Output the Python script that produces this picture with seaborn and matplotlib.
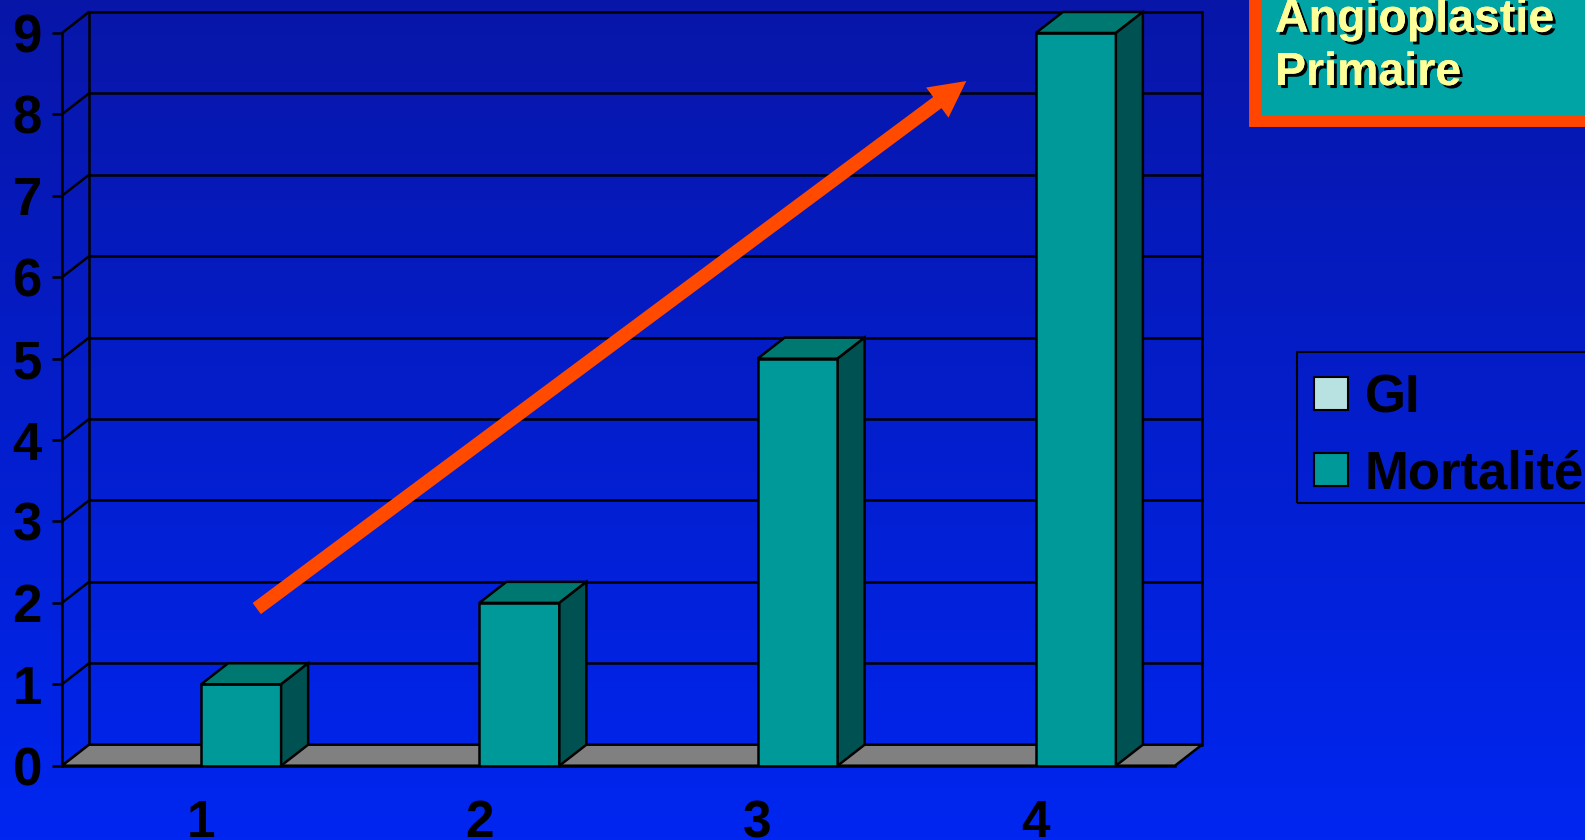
import numpy as np
import pandas as pd
import matplotlib
matplotlib.use("Agg")
import matplotlib.pyplot as plt
import matplotlib.patheffects as pe
from matplotlib.patches import Polygon, Rectangle
import seaborn as sns

# ---- data ----
categories = ["1", "2", "3", "4"]
series_names = ["GI", "Mortalité"]
gi_values = [0, 0, 0, 0]
mortalite_values = [1, 2, 5, 9]
y_ticks = list(range(0, 10))
title_lines = ["Angioplastie", "Primaire"]
trend_start = (0.20, 1.93)   # arrow tail (category position, value)
trend_end = (2.75, 8.41)     # arrow head

# ---- styling ----
front_col = "#009999"
top_col = "#007872"
side_col = "#005252"
gi_col = "#b8e2e2"
floor_col = "#808080"
arrow_col = "#ff4a00"
bg_top = np.array([8, 22, 168]) / 255
bg_bot = np.array([0, 38, 240]) / 255

sns.set_style("white")
plt.rcParams["font.family"] = ["Liberation Sans", "DejaVu Sans"]
plt.rcParams["font.weight"] = "bold"

W, H = 1585, 840
fig = plt.figure(figsize=(W / 100, H / 100), dpi=100)

# gradient background
bg = fig.add_axes([0, 0, 1, 1], zorder=-1)
t = np.linspace(0, 1, 256)[:, None, None]
grad = bg_top * (1 - t) + bg_bot * t
bg.imshow(grad, aspect="auto", extent=[0, 1, 0, 1])
bg.set_axis_off()

# front plane of the 3D chart
x0_px, x1_px = 62, 1175
y0_px, y9_px = 765.7, 33
ax = fig.add_axes([x0_px / W, 1 - y0_px / H, (x1_px - x0_px) / W, (y0_px - y9_px) / H])
ax.set_facecolor("none")

df = pd.DataFrame({
    "cat": categories * 2,
    "serie": [series_names[0]] * 4 + [series_names[1]] * 4,
    "val": gi_values + mortalite_values,
})
sns.barplot(data=df, x="cat", y="val", hue="serie", order=categories,
            hue_order=series_names, palette={series_names[0]: gi_col, series_names[1]: front_col},
            saturation=1, width=0.575, edgecolor="black", linewidth=1.8, errorbar=None,
            legend=False, ax=ax, zorder=4)

ax.set_xlim(-0.5, 3.5)
ax.set_ylim(0, 9)

# depth of the 3D box in data units
dx = 27 / ((x1_px - x0_px) / 4)
dy = 21 / ((y0_px - y9_px) / 9)
lw = 1.8
xl, xr = -0.5, 3.5

# back wall gridlines and left wall diagonals
for v in y_ticks:
    ax.plot([xl + dx, xr + dx], [v + dy, v + dy], color="black", lw=lw, clip_on=False, zorder=1)
    ax.plot([xl, xl + dx], [v, v + dy], color="black", lw=lw, clip_on=False, zorder=1)
for xv in (xl + dx, xr + dx):
    ax.plot([xv, xv], [dy, y_ticks[-1] + dy], color="black", lw=lw, clip_on=False, zorder=1)

# floor
ax.add_patch(Polygon([(xl, 0), (xr, 0), (xr + dx, dy), (xl + dx, dy)], closed=True,
                     facecolor=floor_col, edgecolor="black", lw=lw, clip_on=False, zorder=2))

# top and side faces of the columns
for p in list(ax.patches):
    if not isinstance(p, Rectangle):
        continue
    h = p.get_height()
    if h <= 0:
        p.set_visible(False)
        continue
    bx0 = p.get_x()
    bx1 = bx0 + p.get_width()
    ax.add_patch(Polygon([(bx0, h), (bx1, h), (bx1 + dx, h + dy), (bx0 + dx, h + dy)], closed=True,
                         facecolor=top_col, edgecolor="black", lw=lw, clip_on=False, zorder=4))
    ax.add_patch(Polygon([(bx1, 0), (bx1 + dx, dy), (bx1 + dx, h + dy), (bx1, h)], closed=True,
                         facecolor=side_col, edgecolor="black", lw=lw, clip_on=False, zorder=4))

# axes, ticks
for s in ("top", "right"):
    ax.spines[s].set_visible(False)
for s in ("left", "bottom"):
    ax.spines[s].set_color("black")
    ax.spines[s].set_linewidth(lw)
    ax.spines[s].set_zorder(3)
ax.set_xticks(range(len(categories)))
ax.set_xticklabels(categories)
ax.set_xticks([i - 0.5 for i in range(len(categories) + 1)], minor=True)
ax.set_yticks(y_ticks)
ax.set_yticklabels([str(v) for v in y_ticks])
ax.tick_params(axis="x", which="major", length=0, pad=24, labelsize=37, labelcolor="black")
ax.tick_params(axis="x", which="minor", length=7.5, width=lw, color="black", direction="out")
ax.tick_params(axis="y", which="major", length=7.5, width=lw, color="black", direction="out",
               pad=7, labelsize=38, labelcolor="black", left=True)
ax.set_xlabel("")
ax.set_ylabel("")
ax.grid(False)

# trend arrow
ax.annotate("", xy=trend_end, xytext=trend_start, annotation_clip=False,
            arrowprops=dict(width=10, headwidth=27, headlength=26, shrink=0,
                            facecolor=arrow_col, edgecolor="none"), zorder=6)

# title box
fig.patches.append(Rectangle((1255 / W, 1 - 121 / H), 0.3, 0.3, transform=fig.transFigure,
                             facecolor="#00a4a4", edgecolor="#ff4500", lw=8.6, zorder=2))
shadow = [pe.withSimplePatchShadow(offset=(2.2, -2.2), shadow_rgbFace="black", alpha=1.0), pe.Normal()]
fig.text(1275 / W, 1 - 31.7 / H, title_lines[0], fontsize=33.5, color="#ffff99",
         va="baseline", ha="left", path_effects=shadow, zorder=3)
fig.text(1275 / W, 1 - 85 / H, title_lines[1], fontsize=33.5, color="#ffff99",
         va="baseline", ha="left", path_effects=shadow, zorder=3)

# legend
fig.patches.append(Rectangle((1297 / W, 1 - 503 / H), 0.3, (503 - 352) / H, transform=fig.transFigure,
                             facecolor="none", edgecolor="black", lw=1.5, zorder=2))
for name, col, top_px, base_px in [(series_names[0], gi_col, 377, 412.7),
                                   (series_names[1], front_col, 453, 488)]:
    fig.patches.append(Rectangle((1314 / W, 1 - (top_px + 33) / H), 34 / W, 33 / H,
                                 transform=fig.transFigure, facecolor=col,
                                 edgecolor="black", lw=1.5, zorder=3))
    fig.text(1365 / W, 1 - base_px / H, name, fontsize=38, color="black",
             va="baseline", ha="left", zorder=3)

fig.savefig("out.png", dpi=100)
